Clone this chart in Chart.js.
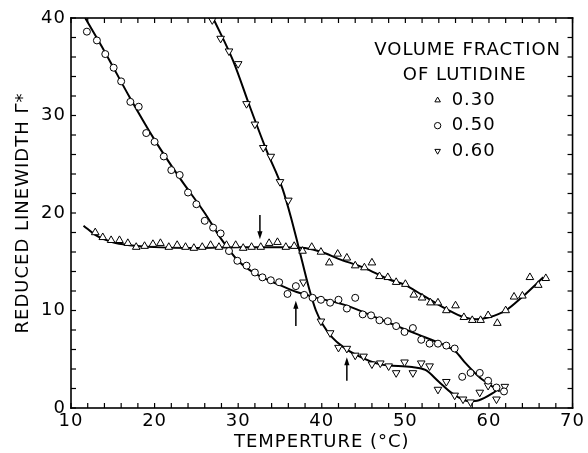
<!DOCTYPE html>
<html>
<head>
<meta charset="utf-8">
<script src="https://cdn.jsdelivr.net/npm/chart.js@4.4.0/dist/chart.umd.min.js"></script>
<style>
html, body { margin: 0; padding: 0; background: #fff; }
#wrap { width: 588px; height: 453px; position: relative; }
#box { position: absolute; left: 0; top: 0; pointer-events: none; }
</style>
</head>
<body>
<div id="wrap"><canvas id="chart"></canvas><canvas id="box" width="588" height="453"></canvas></div>
<script>
// Volume fraction 0.30 (triangles up)
const temp30 = [12.9, 13.8, 14.8, 15.8, 16.8, 17.8, 18.8, 19.8, 20.7, 21.7, 22.7, 23.7, 24.7, 25.7, 26.7, 27.7, 28.6, 29.7, 30.6, 31.6, 32.7, 33.7, 34.7, 35.7, 36.7, 37.7, 38.8, 39.9, 40.9, 41.9, 43.0, 44.0, 45.1, 46.0, 46.9, 47.9, 48.9, 50.0, 51.0, 52.0, 53.0, 53.9, 54.9, 56.0, 57.0, 58.0, 59.0, 59.9, 61.0, 62.0, 63.0, 64.0, 64.9, 65.9, 66.8];
const gamma30 = [18.0, 17.5, 17.2, 17.2, 16.9, 16.5, 16.6, 16.8, 16.9, 16.5, 16.7, 16.5, 16.4, 16.5, 16.7, 16.5, 16.7, 16.7, 16.4, 16.5, 16.5, 16.9, 17.0, 16.5, 16.6, 16.1, 16.5, 16.0, 14.9, 15.8, 15.4, 14.6, 14.4, 14.9, 13.5, 13.4, 12.9, 12.7, 11.6, 11.3, 10.8, 10.8, 10.0, 10.5, 9.3, 9.0, 9.0, 9.5, 8.7, 10.0, 11.4, 11.5, 13.4, 12.6, 13.3];

// Volume fraction 0.50 (circles)
const temp50 = [11.9, 13.1, 14.1, 15.1, 16.0, 17.1, 18.1, 19.0, 20.0, 21.1, 22.0, 23.0, 24.0, 25.0, 26.0, 27.0, 27.9, 28.9, 29.9, 31.0, 32.0, 32.9, 33.9, 34.9, 35.9, 36.9, 37.9, 38.9, 39.9, 41.0, 42.0, 43.0, 44.0, 44.9, 45.9, 46.9, 47.9, 48.9, 49.9, 50.9, 51.9, 52.9, 53.9, 54.9, 55.9, 56.8, 57.8, 58.9, 59.9, 60.9, 61.8];
const gamma50 = [38.6, 37.7, 36.3, 34.9, 33.5, 31.4, 30.9, 28.2, 27.3, 25.8, 24.4, 23.9, 22.1, 20.9, 19.2, 18.5, 17.9, 16.1, 15.1, 14.6, 13.9, 13.4, 13.1, 12.9, 11.7, 12.5, 11.6, 11.3, 11.1, 10.8, 11.1, 10.2, 11.3, 9.6, 9.5, 9.0, 8.9, 8.4, 7.8, 8.2, 7.0, 6.6, 6.6, 6.4, 6.1, 3.2, 3.6, 3.6, 2.8, 2.1, 1.7];

// Volume fraction 0.60 (triangles down)
const temp60 = [26.9, 27.9, 28.9, 30.0, 31.0, 32.0, 33.0, 33.9, 35.0, 36.0, 37.8, 39.9, 41.0, 42.0, 43.0, 44.0, 45.0, 46.0, 47.0, 48.0, 48.9, 49.9, 50.9, 51.9, 52.9, 53.9, 54.9, 55.9, 56.9, 57.8, 58.9, 59.9, 60.9, 61.9];
const gamma60 = [39.8, 37.9, 36.6, 35.3, 31.2, 29.1, 26.7, 25.8, 23.2, 21.3, 12.9, 8.9, 7.7, 6.2, 6.1, 5.4, 5.3, 4.5, 4.6, 4.3, 3.6, 4.7, 3.6, 4.6, 4.3, 1.9, 2.7, 1.3, 0.9, 0.6, 1.6, 2.3, 0.9, 2.2];

// Hand-drawn fitted curves
const fit30T = [11.5, 13, 15, 17, 20, 25, 30, 35, 38, 40, 42, 45, 48, 50, 52, 55, 57, 58.5, 60, 62, 64, 66.5];
const fit30G = [18.7, 17.7, 17.0, 16.7, 16.5, 16.4, 16.5, 16.5, 16.4, 16.0, 15.3, 14.4, 13.2, 12.6, 11.6, 10.1, 9.3, 9.1, 9.3, 10.0, 11.4, 13.4];
const fit50T = [11.7, 14, 17, 20, 23, 26, 28, 30, 32, 35, 37, 39, 43, 47, 51, 55, 56, 57.2, 58.8, 60.4, 61.3];
const fit50G = [40, 36.6, 31.9, 27.5, 23.6, 20.0, 17.3, 15.1, 13.8, 12.6, 11.9, 11.4, 10.5, 9.1, 7.7, 6.3, 5.8, 4.6, 3.2, 2.2, 1.7];
const fit60T = [27.0, 29.4, 31.4, 33.4, 35.3, 36.3, 37.2, 38.5, 39.3, 40.1, 41.3, 42.5, 44.0, 46.9, 50.8, 52.4, 54.0, 55.6, 57.6, 58.8, 60.4, 61.2];
const fit60G = [40, 35.6, 30.9, 26.4, 22.5, 19.6, 16.6, 12.2, 10.0, 8.6, 7.2, 6.3, 5.5, 4.5, 4.2, 3.9, 2.7, 1.5, 0.7, 0.8, 1.5, 2.0];

// Arrows marking transition temperatures
const arrowT = [32.6, 36.9, 43.0];
const arrowFrom = [19.8, 8.4, 2.8];
const arrowTo = [17.3, 11.0, 5.2];

const seriesLabels = ['0.30', '0.50', '0.60'];
const FONT = "'DejaVu Sans', 'Liberation Sans', sans-serif";

function pts(xs, ys) {
    return xs.map((x, i) => ({ x: x, y: ys[i] }));
}

function markerSet(label, xs, ys, style, rot, r) {
    return {
        label: label,
        data: pts(xs, ys),
        showLine: false,
        pointStyle: style,
        rotation: rot,
        pointRadius: r,
        borderWidth: 1,
        borderColor: '#000',
        backgroundColor: '#fff',
        order: 1
    };
}

function fitSet(xs, ys) {
    return {
        label: 'fit',
        data: pts(xs, ys),
        showLine: true,
        pointRadius: 0,
        borderWidth: 2,
        borderColor: '#000',
        cubicInterpolationMode: 'monotone',
        order: 2
    };
}

// Box round the plot with inward ticks, on a canvas laid over the chart
function drawBox(chart) {
    const ctx = document.getElementById('box').getContext('2d');
    const a = chart.chartArea;
    const xs = chart.scales.x, ys = chart.scales.y;
    ctx.clearRect(0, 0, 588, 453);
    ctx.fillStyle = '#000';
    const t = 1.6;
    ctx.fillRect(a.left - t / 2, a.top - t / 2, a.right - a.left + t, t);
    ctx.fillRect(a.left - t / 2, a.bottom - t / 2, a.right - a.left + t, t);
    ctx.fillRect(a.left - t / 2, a.top - t / 2, t, a.bottom - a.top + t);
    ctx.fillRect(a.right - t / 2, a.top - t / 2, t, a.bottom - a.top + t);
    const len = 5, tw = 1.2;
    for (let v = 10; v <= 70; v += 2) {
        const px = xs.getPixelForValue(v);
        ctx.fillRect(px - tw / 2, a.bottom - len, tw, len);
        ctx.fillRect(px - tw / 2, a.top, tw, len);
    }
    for (let v = 0; v <= 40; v += 2) {
        const py = ys.getPixelForValue(v);
        ctx.fillRect(a.left, py - tw / 2, len, tw);
        ctx.fillRect(a.right - len, py - tw / 2, len, tw);
    }
}

function drawArrows(chart) {
    const { ctx, scales } = chart;
    ctx.save();
    ctx.strokeStyle = '#000';
    ctx.fillStyle = '#000';
    ctx.lineWidth = 1.5;
    arrowT.forEach((t, i) => {
        const px = scales.x.getPixelForValue(t);
        const y0 = scales.y.getPixelForValue(arrowFrom[i]);
        const y1 = scales.y.getPixelForValue(arrowTo[i]);
        const dir = y1 > y0 ? 1 : -1;
        ctx.beginPath();
        ctx.moveTo(px, y0);
        ctx.lineTo(px, y1 - dir * 6);
        ctx.stroke();
        ctx.beginPath();
        ctx.moveTo(px, y1);
        ctx.lineTo(px - 2.6, y1 - dir * 8);
        ctx.lineTo(px + 2.6, y1 - dir * 8);
        ctx.closePath();
        ctx.fill();
    });
    ctx.restore();
}

// Legend drawn inside the upper right of the plot
function drawLegend(chart) {
    const { ctx, chartArea: a } = chart;
    const w = a.right - a.left, h = a.bottom - a.top;
    const cx = a.left + w * 0.791;
    ctx.save();
    ctx.fillStyle = '#000';
    ctx.font = '18px ' + FONT;
    ctx.textAlign = 'center';
    ctx.textBaseline = 'middle';
    ctx.fillText('VOLUME FRACTION', cx, a.top + h * 0.082);
    ctx.fillText('OF LUTIDINE', cx - 3, a.top + h * 0.146);
    const markers = chart.data.datasets.filter(d => d.label !== 'fit');
    markers.forEach((d, i) => {
        const y = a.top + h * (0.211 + i * 0.065);
        const sx = a.left + w * 0.731;
        ctx.textAlign = 'left';
        ctx.fillStyle = '#000';
        ctx.fillText(seriesLabels[i], sx + 14, y);
        ctx.strokeStyle = '#000';
        ctx.lineWidth = 1;
        ctx.fillStyle = '#fff';
        Chart.helpers.drawPoint(ctx, { pointStyle: d.pointStyle, rotation: d.rotation, radius: 3.2, borderWidth: 1 }, sx, y);
    });
    ctx.restore();
}

const decorPlugin = {
    id: 'decor',
    beforeLayout(chart) { chart.ctx.letterSpacing = '1px'; },
    beforeDraw(chart) { chart.ctx.letterSpacing = '1px'; },
    afterDraw(chart) {
        drawArrows(chart);
        drawLegend(chart);
    },
    afterRender(chart) { drawBox(chart); }
};

const tickFont = { family: FONT, size: 18 };

const chart = new Chart(document.getElementById('chart'), {
    type: 'scatter',
    data: {
        datasets: [
            markerSet(seriesLabels[0], temp30, gamma30, 'triangle', 0, 4.4),
            markerSet(seriesLabels[1], temp50, gamma50, 'circle', 0, 3.5),
            markerSet(seriesLabels[2], temp60, gamma60, 'triangle', 180, 4.4),
            fitSet(fit30T, fit30G),
            fitSet(fit50T, fit50G),
            fitSet(fit60T, fit60G)
        ]
    },
    options: {
        responsive: true,
        maintainAspectRatio: false,
        animation: false,
        layout: { padding: { top: 18, right: 14, left: 0, bottom: 0 } },
        plugins: {
            legend: { display: false },
            tooltip: { enabled: false }
        },
        scales: {
            x: {
                type: 'linear',
                min: 10,
                max: 70,
                grid: { display: false, drawTicks: false },
                border: { display: false },
                ticks: {
                    stepSize: 2,
                    autoSkip: false,
                    maxRotation: 0,
                    padding: 3,
                    color: '#000',
                    font: tickFont,
                    callback: v => (v % 10 === 0 ? v : '')
                },
                title: {
                    display: true,
                    text: 'TEMPERTURE (°C)',
                    color: '#000',
                    font: tickFont,
                    padding: { top: 0, bottom: 0 }
                },
                afterFit(scale) { scale.height = 45; }
            },
            y: {
                type: 'linear',
                min: 0,
                max: 40,
                grid: { display: false, drawTicks: false },
                border: { display: false },
                ticks: {
                    stepSize: 2,
                    autoSkip: false,
                    padding: 5,
                    color: '#000',
                    font: tickFont,
                    callback: v => (v % 10 === 0 ? v : '')
                },
                title: {
                    display: true,
                    text: 'REDUCED LINEWIDTH Γ*',
                    color: '#000',
                    font: tickFont,
                    padding: { top: 13, bottom: 0 }
                },
                afterFit(scale) { scale.width = 71; }
            }
        }
    },
    plugins: [decorPlugin]
});
drawBox(chart);
</script>
</body>
</html>
